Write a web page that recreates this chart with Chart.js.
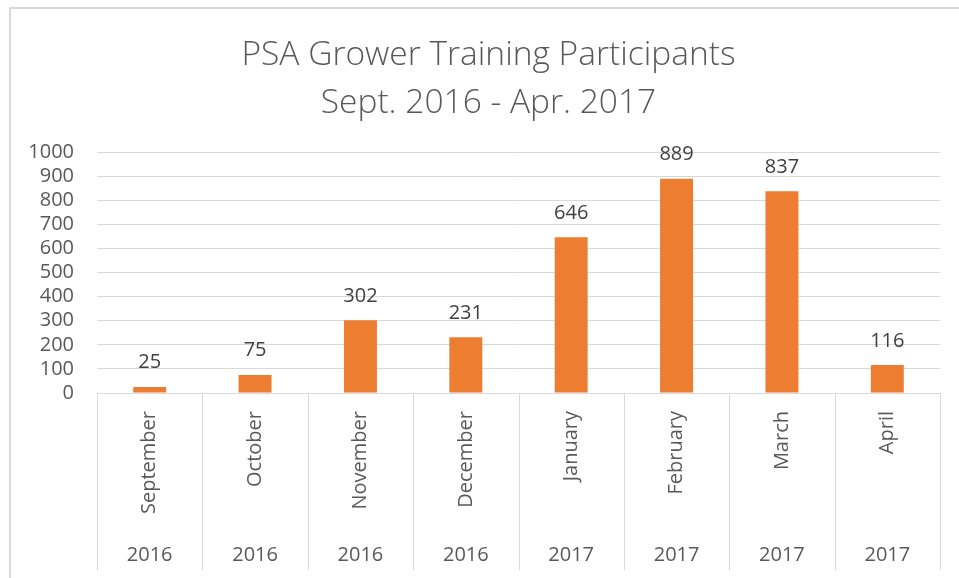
<!DOCTYPE html>
<html>
<head>
<meta charset="utf-8">
<script src="https://cdn.jsdelivr.net/npm/chart.js@4.4.1/dist/chart.umd.min.js"></script>
<style>
  html, body { margin: 0; padding: 0; background: #fff; overflow: hidden; }
  #frame {
    position: absolute; left: 9px; top: 7px; width: 2000px; height: 2000px;
    border-top: 2px solid #d9d9d9; border-left: 2px solid #d9d9d9;
  }
  #wrap { position: absolute; left: 0; top: 0; width: 959px; height: 578px; }
</style>
</head>
<body>
<div id="frame"></div>
<div id="wrap"><canvas id="chart" width="959" height="578"></canvas></div>
<script>
// chart data
var months = ['September', 'October', 'November', 'December', 'January', 'February', 'March', 'April'];
var years = ['2016', '2016', '2016', '2016', '2017', '2017', '2017', '2017'];
var participants = [25, 75, 302, 231, 646, 889, 837, 116];
var titleLines = ['PSA Grower Training Participants', 'Sept. 2016 - Apr. 2017'];

var grey = '#595959';
var lineGrey = '#d9d9d9';
var font = "'Open Sans', 'Liberation Sans', sans-serif";

// value labels above bars + separators for the two-level category axis
var extrasPlugin = {
    id: 'extras',
    afterLayout: function (chart) {
        // the original title is centred on the whole chart object, which starts further left
        chart.titleBlock.left = 37;
    },
    afterDraw: function (chart) {
        var ctx = chart.ctx;
        var xs = chart.scales.x;
        var x2 = chart.scales.x2;
        ctx.save();
        ctx.strokeStyle = lineGrey;
        ctx.lineWidth = 1;
        for (var i = 0; i <= months.length; i++) {
            var px = Math.round(xs.getPixelForValue(i - 0.5)) + 0.5;
            ctx.beginPath();
            ctx.moveTo(px, chart.chartArea.bottom);
            ctx.lineTo(px, x2.bottom);
            ctx.stroke();
        }
        ctx.fillStyle = '#404040';
        ctx.font = '20px ' + font;
        ctx.textAlign = 'center';
        ctx.textBaseline = 'alphabetic';
        var meta = chart.getDatasetMeta(0);
        meta.data.forEach(function (bar, idx) {
            ctx.fillText(String(participants[idx]), bar.x, bar.y - 18.5);
        });
        ctx.restore();
    }
};

var ctx = document.getElementById('chart').getContext('2d');
var chart = new Chart(ctx, {
    type: 'bar',
    data: {
        labels: months,
        datasets: [{
            data: participants,
            backgroundColor: '#ed7d31',
            borderWidth: 0,
            categoryPercentage: 1,
            barPercentage: 0.313
        }]
    },
    options: {
        responsive: false,
        animation: false,
        layout: { padding: { left: 0, right: 19, top: 0, bottom: 8 } },
        plugins: {
            legend: { display: false },
            tooltip: { enabled: false },
            title: {
                display: true,
                text: titleLines,
                color: grey,
                font: { family: font, size: 33.5, weight: '300', lineHeight: '48px' },
                padding: { top: 31, bottom: 25 }
            }
        },
        scales: {
            y: {
                min: 0,
                max: 1000,
                ticks: {
                    stepSize: 100, autoSkip: false, color: grey, padding: 23,
                    font: { family: font, size: 20 },
                    callback: function (value) { return String(value); }
                },
                grid: { color: lineGrey, drawTicks: false },
                border: { display: false },
                afterFit: function (scale) { scale.width = 97; }
            },
            x: {
                weight: 0,
                ticks: {
                    color: grey, autoSkip: false, minRotation: 90, maxRotation: 90,
                    padding: 10, font: { family: font, size: 20 }
                },
                grid: { display: false },
                border: { display: true, color: lineGrey },
                afterFit: function (scale) { scale.height = 137; }
            },
            x2: {
                type: 'category',
                labels: years,
                position: 'bottom',
                weight: 1,
                offset: true,
                ticks: { color: grey, autoSkip: false, maxRotation: 0, padding: 5, font: { family: font, size: 20 } },
                grid: { display: false },
                border: { display: false },
                afterFit: function (scale) { scale.height = 40; }
            }
        }
    },
    plugins: [extrasPlugin]
});
</script>
</body>
</html>
